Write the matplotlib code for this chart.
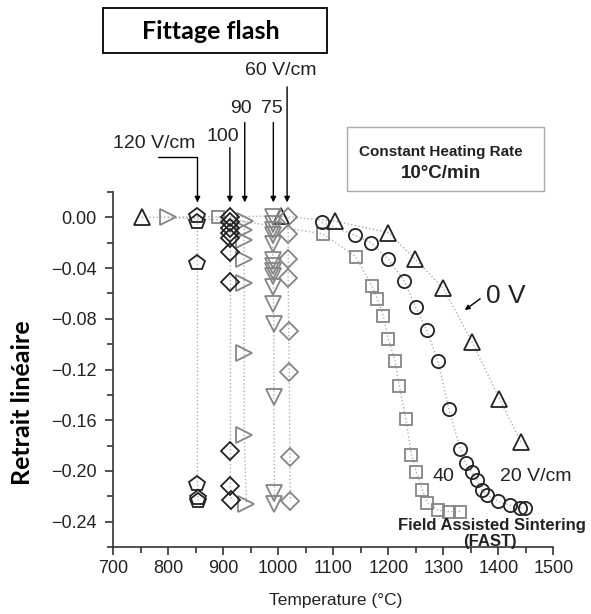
import matplotlib
matplotlib.use("Agg")
import matplotlib.pyplot as plt
from matplotlib.patches import Rectangle
from matplotlib.ticker import MultipleLocator, FuncFormatter

# --- data ---
# conventional heating (0 V)
t_0v = [752, 1005, 1103, 1200, 1249, 1300, 1352, 1402, 1441]
s_0v = [0.0, 0.001, -0.003, -0.012, -0.033, -0.056, -0.098, -0.143, -0.177]

# 20 V/cm (FAST)
t_20 = [1079, 1139, 1169, 1200, 1229, 1250, 1270, 1290, 1310, 1331,
        1341, 1352, 1361, 1370, 1380, 1400, 1421, 1439, 1448]
s_20 = [-0.004, -0.014, -0.020, -0.033, -0.050, -0.071, -0.089, -0.113, -0.151, -0.183,
        -0.194, -0.201, -0.207, -0.215, -0.219, -0.224, -0.227, -0.229, -0.229]

# 40 V/cm (FAST)
t_40 = [890, 1081, 1141, 1170, 1180, 1191, 1200, 1212, 1220, 1232,
        1242, 1251, 1262, 1271, 1291, 1311, 1331]
s_40 = [0.0, -0.013, -0.031, -0.054, -0.064, -0.078, -0.096, -0.113, -0.133, -0.159,
        -0.187, -0.201, -0.215, -0.225, -0.231, -0.232, -0.232]

# flash sintering
t_60 = [1018, 1018, 1018, 1018, 1019, 1020, 1021, 1022]
s_60 = [0.0, -0.013, -0.033, -0.048, -0.090, -0.122, -0.189, -0.224]

t_75 = [990, 990, 990, 990, 990, 990, 990, 990, 990, 991, 991, 992, 992, 993, 993]
s_75 = [0.0, -0.005, -0.010, -0.014, -0.021, -0.034, -0.038, -0.042, -0.046,
        -0.055, -0.068, -0.084, -0.142, -0.217, -0.226]

t_90 = [800, 940, 938, 938, 938, 938, 938, 938, 942]
s_90 = [0.0, -0.003, -0.010, -0.018, -0.033, -0.052, -0.107, -0.172, -0.226]

t_100 = [913, 913, 913, 913, 913, 913, 913, 913, 913, 914]
s_100 = [0.0, -0.004, -0.008, -0.012, -0.016, -0.027, -0.051, -0.184, -0.212, -0.223]

t_120 = [853, 853, 853, 853, 854, 854]
s_120 = [0.001, -0.004, -0.036, -0.210, -0.221, -0.224]

ARIAL = "Liberation Sans"
CALIBRI = "Lato"

fig = plt.figure(figsize=(5.91, 6.14), dpi=100)
ax = fig.add_axes([0.1917, 0.1090, 0.7445, 0.5783])

line_kw = dict(linestyle=":", color="#b0b0b0", linewidth=1.0, zorder=1)
dark = "#222222"
grey = "#858585"

series = [
    (t_40, s_40, "s", 8, grey),
    (t_20, s_20, "o", 9.5, dark),
    (t_0v, s_0v, "^", 11.5, dark),
    (t_60, s_60, "D", 9, grey),
    (t_75, s_75, "v", 11, grey),
    (t_90, s_90, ">", 11, grey),
    (t_100, s_100, "D", 9, dark),
    (t_120, s_120, "p", 11.5, dark),
]
for t, s, m, ms, c in series:
    ax.plot(t, s, **line_kw)
    ax.plot(t, s, linestyle="none", marker=m, markersize=ms,
            markerfacecolor="none", markeredgecolor=c, markeredgewidth=1.3, zorder=3)

ax.set_xlim(700, 1500)
ax.set_ylim(-0.26, 0.02)
ax.xaxis.set_major_locator(MultipleLocator(100))
ax.xaxis.set_minor_locator(MultipleLocator(50))
ax.yaxis.set_major_locator(MultipleLocator(0.04))
ax.yaxis.set_minor_locator(MultipleLocator(0.02))


def yfmt(v, pos):
    txt = "%.2f" % v
    if txt == "-0.00":
        txt = "0.00"
    return txt.replace("-", "\u2212")


ax.yaxis.set_major_formatter(FuncFormatter(yfmt))

for side in ["top", "right"]:
    ax.spines[side].set_visible(False)
for side in ["left", "bottom"]:
    ax.spines[side].set_linewidth(1.2)
    ax.spines[side].set_color("#333333")

ax.tick_params(which="major", direction="out", length=6, width=1.2, color="#333333",
               labelsize=13, labelcolor="#222222")
ax.tick_params(which="minor", direction="out", length=4, width=1.2, color="#333333")
ax.tick_params(axis="y", which="major", pad=6)
ax.tick_params(axis="x", which="major", pad=3)
for lab in ax.get_xticklabels() + ax.get_yticklabels():
    lab.set_fontfamily(ARIAL)

# arrows marking the flash onset
arrow_kw = dict(arrowstyle="-|>", color="black", lw=1.0, mutation_scale=8,
                shrinkA=0, shrinkB=0)
ax.annotate("", xy=(853, 0.0118), xytext=(781, 0.0478),
            arrowprops=dict(connectionstyle="angle,angleA=0,angleB=90,rad=0", **arrow_kw),
            annotation_clip=False)
onsets = [(912, 0.055), (939, 0.0748), (991, 0.0748), (1016, 0.1029)]
for x0, y0 in onsets:
    ax.annotate("", xy=(x0, 0.0118), xytext=(x0, y0), arrowprops=arrow_kw,
                annotation_clip=False)

lab_kw = dict(fontfamily=ARIAL, fontsize=14, color="#222222", ha="center", va="center",
              clip_on=False)
ax.text(774, 0.0584, "120 V/cm", **lab_kw)
ax.text(899, 0.0639, "100", **lab_kw)
ax.text(932, 0.086, "90", **lab_kw)
ax.text(989, 0.086, "75", **lab_kw)
ax.text(1004, 0.1159, "60 V/cm", **lab_kw)

ax.text(1300, -0.2042, "40", **lab_kw)
ax.text(1468, -0.2042, "20 V/cm", **lab_kw)
ax.text(1414, -0.0617, "0 V", fontfamily=ARIAL, fontsize=19, color="#222222",
        ha="center", va="center")
ax.annotate("", xy=(1339, -0.0731), xytext=(1367, -0.0642),
            arrowprops=dict(arrowstyle="-|>", color="black", lw=1.0, mutation_scale=7,
                            shrinkA=0, shrinkB=0))
ax.text(1389, -0.2428, "Field Assisted Sintering", fontfamily=ARIAL, fontsize=12,
        fontweight="bold", color="#222222", ha="center", va="center", clip_on=False)
ax.text(1385, -0.2554, "(FAST)", fontfamily=ARIAL, fontsize=12,
        fontweight="bold", color="#222222", ha="center", va="center", clip_on=False)

# boxes above the plot
fig.add_artist(Rectangle((0.1738, 0.9132), 0.3790, 0.0733, transform=fig.transFigure,
                         fill=False, edgecolor="black", linewidth=1.3))
fig.text(0.3567, 0.9480, "Fittage flash", fontfamily=CALIBRI, fontweight="bold",
         fontsize=18, ha="center", va="center")

fig.add_artist(Rectangle((0.5871, 0.6889), 0.3333, 0.1042, transform=fig.transFigure,
                         fill=False, edgecolor="#aaaaaa", linewidth=1.0))
fig.text(0.7453, 0.7524, "Constant Heating Rate", fontfamily=ARIAL, fontweight="bold",
         fontsize=11, color="#222222", ha="center", va="center")
fig.text(0.7462, 0.7182, "10\u00b0C/min", fontfamily=ARIAL, fontweight="bold",
         fontsize=13.5, color="#222222", ha="center", va="center")

fig.text(0.5685, 0.0212, "Temperature (\u00b0C)", fontfamily=ARIAL, fontsize=12.5,
         color="#222222", ha="center", va="center")
fig.text(0.0381, 0.3436, "Retrait lin\u00e9aire", fontfamily=CALIBRI, fontweight="bold",
         fontsize=18, rotation=90, ha="center", va="center")

fig.savefig("out.png", dpi=100)
